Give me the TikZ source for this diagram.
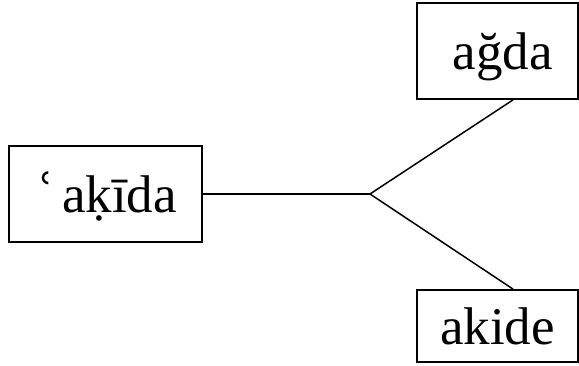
\documentclass[tikz,border=0pt]{standalone}
\usepackage{fontspec}
\setmainfont{Liberation Serif}
\usepackage{tikz}
\usetikzlibrary{arrows,shapes}
\tikzstyle{word}=[rectangle, draw, line width=1.8pt
,font=\fontsize{53}{60}\selectfont
,text height=43pt, text depth=6pt
,inner sep=0pt
]
\tikzstyle{edge} = [draw,line width=1.5pt,-]
\newcommand{\ayn}{\raisebox{-7pt}{\fontsize{66}{60}\selectfont ʿ}\hspace{6pt}}

\begin{document}
\begin{tikzpicture}[x=1pt,y=1pt]
    \useasboundingbox (0,0) rectangle (579,365);
    % First we draw the words
    \foreach \pos/\name/\bw/\bh/\txt in {{(105.5,171)/akida/193/96/\ayn aḳīda}, {(497.5,314)/agda/161/96/\hspace{10pt}ağda}, {(497.5,39)/akide/161/72/akide}}
        \node[word, minimum width=\bw pt, minimum height=\bh pt] (\name) at \pos {\txt};

    % The fork where the line splits
    \coordinate (fork) at (370,171);

    % Connect words with lines
    \path[edge] (akida.east) -- (fork);
    \foreach \dest in {agda.south, akide.north}
        \path[edge] (fork) -- ([xshift=15.5pt]\dest);
\end{tikzpicture}
\end{document}
